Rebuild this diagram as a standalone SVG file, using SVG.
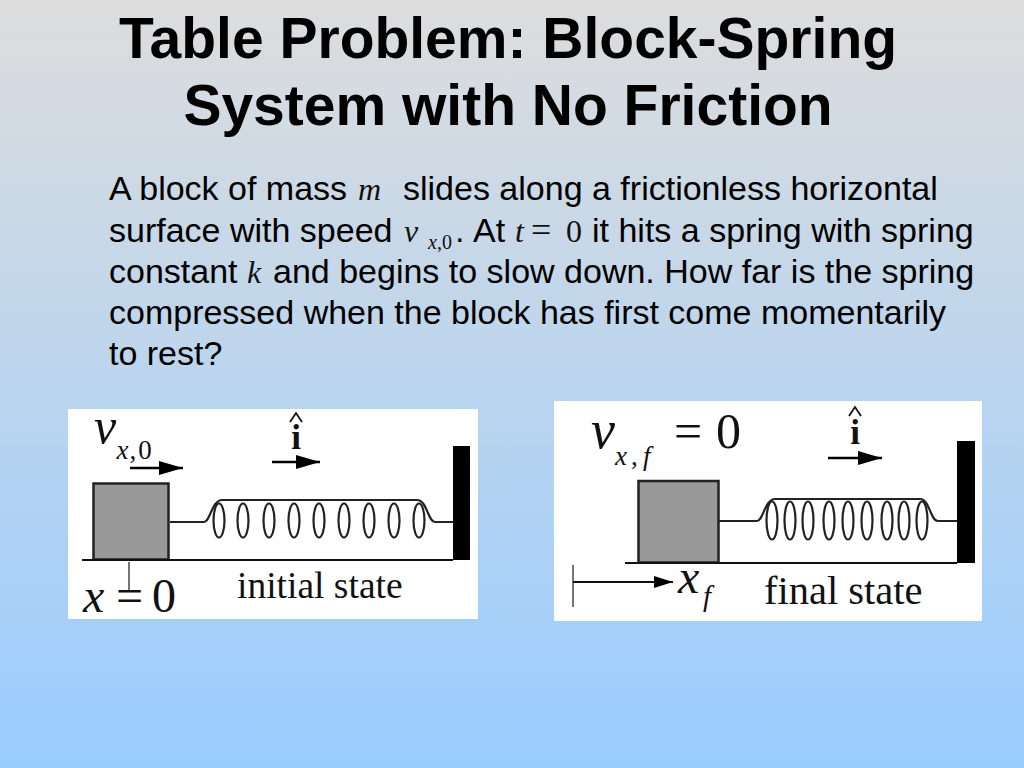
<svg xmlns="http://www.w3.org/2000/svg" width="1024" height="768" viewBox="0 0 1024 768">
<defs>
<linearGradient id="bg" x1="0" y1="0" x2="0" y2="1"><stop offset="0" stop-color="#dddddd"/><stop offset="1" stop-color="#99ccff"/></linearGradient>
<marker id="head" markerUnits="userSpaceOnUse" markerWidth="24" markerHeight="14" refX="24" refY="7" orient="auto"><path d="M0 0L24 7L0 14Z" fill="#000"/></marker>
<marker id="headS" markerUnits="userSpaceOnUse" markerWidth="19" markerHeight="12" refX="19" refY="6" orient="auto"><path d="M0 0L19 6L0 12Z" fill="#000"/></marker>
</defs>
<style>
.title{font:bold 57px "Liberation Sans",Arial,sans-serif;fill:#000;text-anchor:middle}
.body{font:34px "Liberation Sans",Arial,sans-serif;fill:#000}
.m{font-family:"Liberation Serif","Times New Roman",serif;fill:#111}
.i{font-style:italic}
.big{font-size:32px}
.sub{font-size:20px}
.line{stroke:#111;stroke-width:2;fill:none}
.coil{stroke:#222;stroke-width:2.200;fill:none}
.block{fill:#999;stroke:#222;stroke-width:2.500}
.panel{fill:#fff}
.wall{fill:#000}
.arrow{stroke:#000;stroke-width:2.500;fill:none}
.tick{stroke:#666;stroke-width:1.800;fill:none}
.hat{stroke:#111;stroke-width:1.800;fill:none}
</style>
<rect width="1024" height="768" fill="url(#bg)"/>
<g id="title">
<text class="title" x="508" y="58">Table Problem: Block-Spring</text>
<text class="title" x="508" y="125">System with No Friction</text>
</g>
<g id="problem-text">
<text class="body" y="200"><tspan x="109">A block of mass</tspan><tspan class="m i big" x="358">m</tspan><tspan x="403">slides along a frictionless horizontal</tspan></text>
<text class="body" y="242"><tspan x="109">surface with speed</tspan><tspan class="m i big" x="404">v</tspan><tspan class="m i sub" x="428" y="249">x</tspan><tspan class="m sub" y="249">,0</tspan><tspan x="455" y="242">.</tspan><tspan x="473">At</tspan><tspan class="m i big" x="515">t</tspan><tspan class="m" x="531" style="font-size:36px">=</tspan><tspan class="m big" x="566">0</tspan><tspan x="592">it hits a spring with spring</tspan></text>
<text class="body" y="283"><tspan x="109">constant</tspan><tspan class="m i big" x="247">k</tspan><tspan x="273">and begins to slow down. How far is the spring</tspan></text>
<text class="body" x="109" y="324">compressed when the block has first come momentarily</text>
<text class="body" x="109" y="365">to rest?</text>
</g>
<g id="initial-state">
<rect class="panel" x="68" y="409" width="410" height="210"/>
<rect class="block" x="93.500" y="483.500" width="75" height="76"/>
<rect class="wall" x="453" y="446" width="17" height="114"/>
<path class="line" d="M82 560H453"/>
<path class="tick" d="M129 562V590"/>
<g class="coil">
<path d="M170 522H204C210 522 212 500 222 500H417C427 500 428 522 435 522H453"/>
<ellipse cx="219" cy="520.500" rx="5.500" ry="17"/><ellipse cx="243" cy="520.500" rx="5.500" ry="17"/><ellipse cx="269" cy="520.500" rx="5.500" ry="17"/><ellipse cx="294" cy="520.500" rx="5.500" ry="17"/><ellipse cx="319" cy="520.500" rx="5.500" ry="17"/><ellipse cx="344" cy="520.500" rx="5.500" ry="17"/><ellipse cx="369" cy="520.500" rx="5.500" ry="17"/><ellipse cx="394" cy="520.500" rx="5.500" ry="17"/><ellipse cx="419" cy="520.500" rx="5.500" ry="17"/>
</g>
<path class="arrow" d="M130 468H183" marker-end="url(#head)"/>
<path class="arrow" d="M272 462H320" marker-end="url(#head)"/>
<text class="m i" x="94" y="443" font-size="50">v</text>
<text class="m" x="116.500" y="459" font-size="27"><tspan class="i">x</tspan><tspan dx="1">,</tspan><tspan dx="2">0</tspan></text>
<text class="m" x="296" y="449" font-size="35" font-weight="bold" text-anchor="middle">i</text>
<path class="hat" d="M290 422L296 413L302 422"/>
<text class="m i" x="83" y="612" font-size="48">x</text>
<text class="m" x="116" y="612" font-size="48">=</text>
<text class="m" x="152" y="612" font-size="48">0</text>
<text class="m" x="237" y="598" font-size="37.500">initial state</text>
</g>
<g id="final-state">
<rect class="panel" x="554" y="401" width="428" height="220"/>
<rect class="block" x="638.500" y="481" width="80" height="81.500"/>
<rect class="wall" x="957" y="441" width="18" height="122"/>
<path class="line" d="M625 563H957"/>
<path class="tick" d="M573 565V607"/>
<g class="coil">
<path d="M719 521H757C763 521 765 499 775 499H920C930 499 930 521 938 521H957"/>
<ellipse cx="772" cy="520.500" rx="5.500" ry="19"/><ellipse cx="790" cy="520.500" rx="5.500" ry="19"/><ellipse cx="808" cy="520.500" rx="5.500" ry="19"/><ellipse cx="829" cy="520.500" rx="5.500" ry="19"/><ellipse cx="848" cy="520.500" rx="5.500" ry="19"/><ellipse cx="867" cy="520.500" rx="5.500" ry="19"/><ellipse cx="887" cy="520.500" rx="5.500" ry="19"/><ellipse cx="904" cy="520.500" rx="5.500" ry="19"/><ellipse cx="922" cy="520.500" rx="5.500" ry="19"/>
</g>
<path class="arrow" d="M828 458H882" marker-end="url(#head)"/>
<path d="M573 582H673" class="line" marker-end="url(#headS)"/>
<text class="m i" x="591" y="448" font-size="54">v</text>
<text class="m i" x="615" y="465" font-size="27">x</text>
<text class="m" x="631" y="465" font-size="27">,</text>
<text class="m i" x="643" y="465" font-size="27">f</text>
<text class="m" x="674" y="448" font-size="50">=</text>
<text class="m" x="716" y="448" font-size="50">0</text>
<text class="m" x="855" y="444" font-size="35" font-weight="bold" text-anchor="middle">i</text>
<path class="hat" d="M849 416L855 407L861 416"/>
<text class="m i" x="678" y="593" font-size="48">x</text>
<text class="m i" x="703" y="606" font-size="29">f</text>
<text class="m" x="764" y="604" font-size="40.500">final state</text>
</g>
</svg>
